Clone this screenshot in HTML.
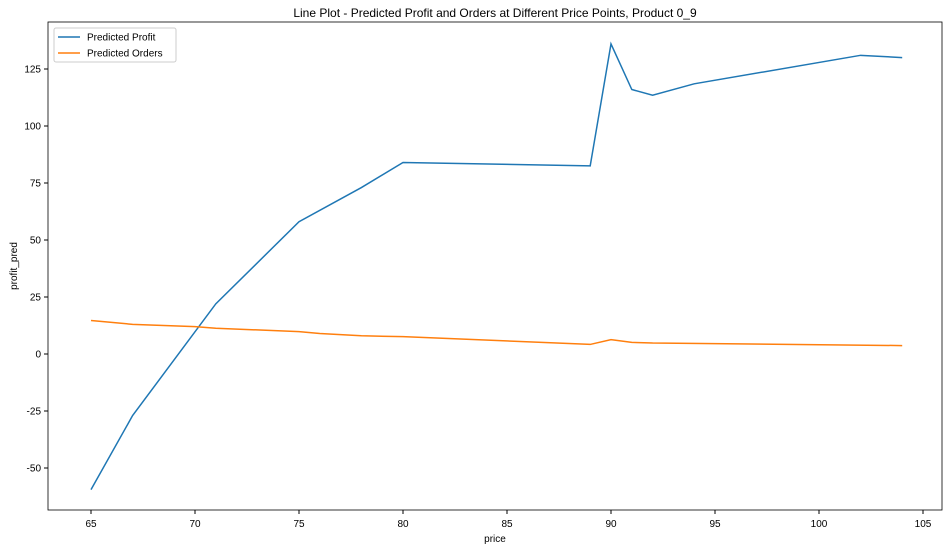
<!DOCTYPE html>
<html><head><meta charset="utf-8"><style>
body{margin:0;background:#fff;width:950px;height:550px;overflow:hidden}
svg{font-family:"Liberation Sans","DejaVu Sans",sans-serif}
</style></head><body>
<svg id="chart" width="950" height="550"></svg>
<script>
const profitX=[65,67,71,75,78,80,89,90,91,92,94,102,104];
const profitY=[-59.5,-27,22,58,73,84,82.5,136,116,113.5,118.5,131,130];
const ordersX=[65,67,70,71,75,76,78,80,89,90,91,92,104];
const ordersY=[14.7,13,12,11.3,9.8,9,8,7.6,4.2,6.3,5.1,4.8,3.7];
const xTicks=[65,70,75,80,85,90,95,100,105];
const yTicks=[-50,-25,0,25,50,75,100,125];
const L=48,R=942,T=22,B=510;
const xs=v=>91+(v-65)*20.8;
const ys=v=>354-v*2.28;
const svg=document.getElementById('chart');
const NS='http://www.w3.org/2000/svg';
function mk(tag,attrs,parent){const e=document.createElementNS(NS,tag);for(const k in attrs)e.setAttribute(k,attrs[k]);(parent||svg).appendChild(e);return e;}
const title=mk('text',{x:(L+R)/2,y:17,'text-anchor':'middle','font-size':12});
title.textContent='Line Plot - Predicted Profit and Orders at Different Price Points, Product 0_9';


xTicks.forEach(t=>{const x=xs(t);mk('line',{x1:x,x2:x,y1:B,y2:B+4,stroke:'#000'});
const tx=mk('text',{x:x,y:B+17,'text-anchor':'middle','font-size':10});tx.textContent=t;

});
yTicks.forEach(t=>{const y=ys(t);mk('line',{x1:L-4,x2:L,y1:y,y2:y,stroke:'#000'});
const tx=mk('text',{x:L-7,y:y+3.5,'text-anchor':'end','font-size':10});tx.textContent=t;

});
function line(X,Y,c,name){const p=mk('polyline',{points:X.map((x,i)=>xs(x)+','+ys(Y[i])).join(' '),fill:'none',stroke:c,'stroke-width':1.5});

}
line(profitX,profitY,'#1f77b4','profit-line');
line(ordersX,ordersY,'#ff7f0e','orders-line');
const frame=mk('rect',{x:L,y:T,width:R-L,height:B-T,fill:'none',stroke:'#000','stroke-width':0.8});


const xl=mk('text',{x:(L+R)/2,y:542,'text-anchor':'middle','font-size':10});xl.textContent='price';


const yl=mk('text',{x:17,y:(T+B)/2,'text-anchor':'middle','font-size':10,transform:'rotate(-90 17 '+(T+B)/2+')'});yl.textContent='profit_pred';


const lg=mk('g',{});


mk('rect',{x:54,y:28,width:122,height:34,fill:'#fff',stroke:'#ccc',rx:2},lg);
[['Predicted Profit','#1f77b4'],['Predicted Orders','#ff7f0e']].forEach((d,i)=>{const y=37+i*16;
mk('line',{x1:58,x2:80,y1:y,y2:y,stroke:d[1],'stroke-width':1.5},lg);
const t=mk('text',{x:87,y:y+3.5,'font-size':10},lg);t.textContent=d[0];

});
</script>
</body></html>
